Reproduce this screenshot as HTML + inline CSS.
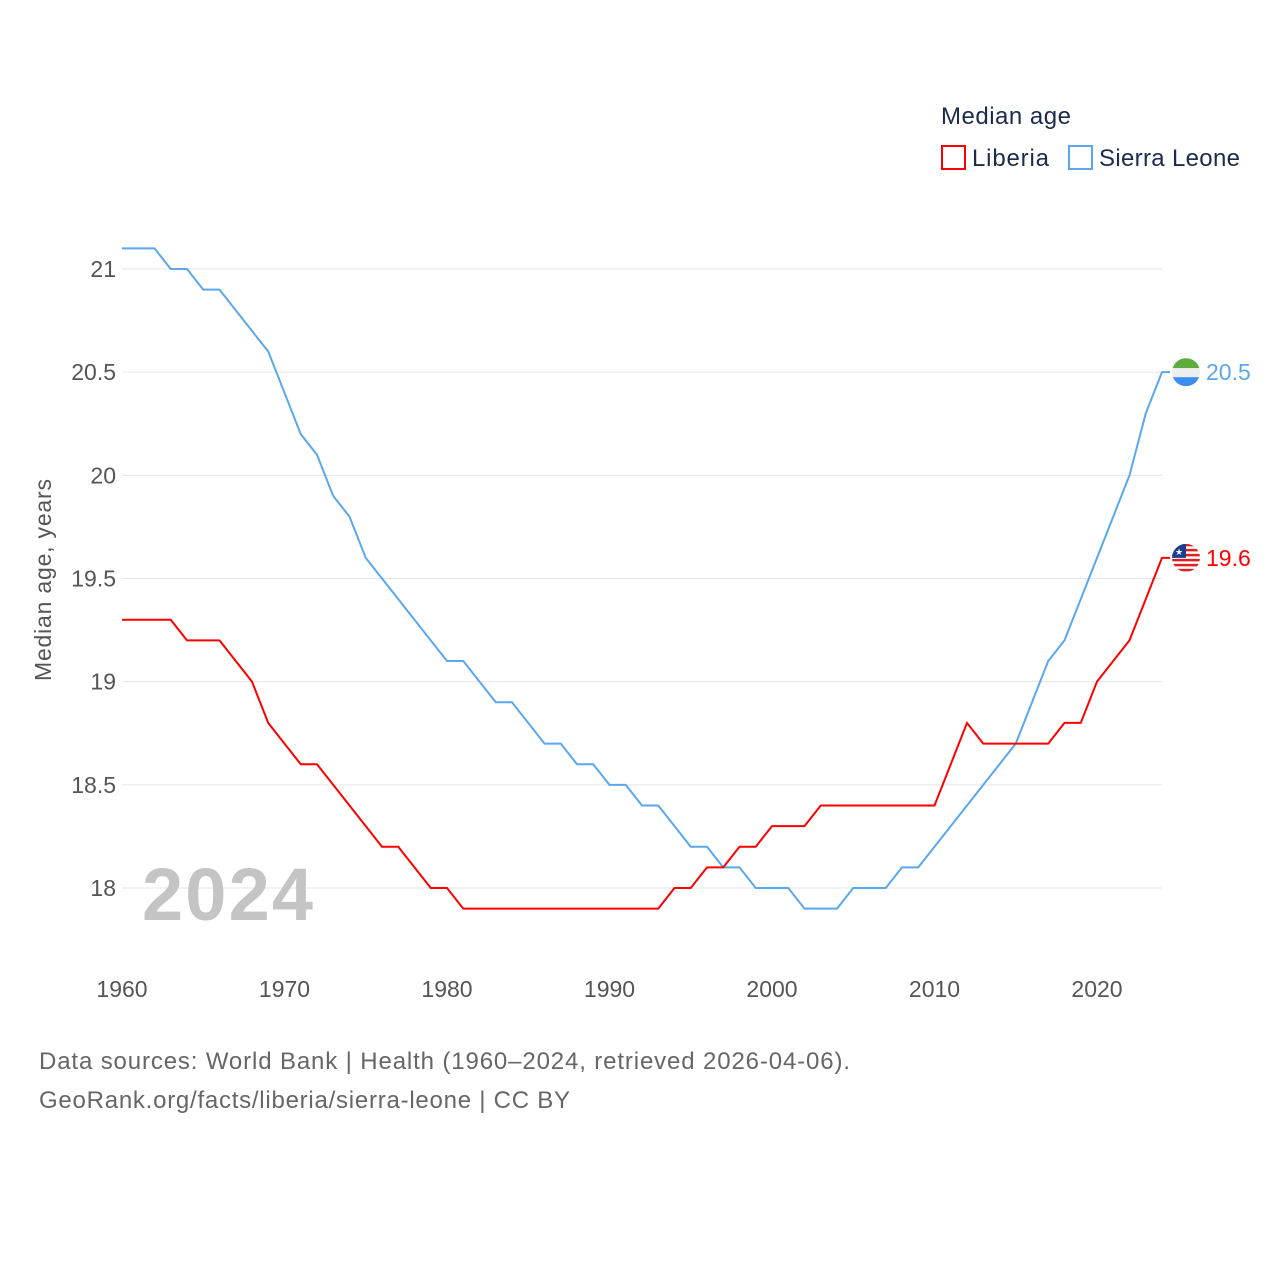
<!DOCTYPE html>
<html><head><meta charset="utf-8"><style>
body{margin:0;background:#fff;width:1280px;height:1280px;overflow:hidden;font-family:"Liberation Sans",sans-serif}
svg text{font-family:"Liberation Sans",sans-serif}
</style></head><body>
<svg id="chart" width="1280" height="1280" xmlns="http://www.w3.org/2000/svg">
<defs>
<clipPath id="c1"><circle id="c1c" cx="0" cy="0" r="14"/></clipPath>
<clipPath id="c2"><circle id="c2c" cx="0" cy="0" r="14"/></clipPath>
</defs>
<text x="941" y="124" font-size="24" fill="#1b2b4b" textLength="130">Median age</text>
<rect x="942" y="146" width="23" height="23" fill="none" stroke="#f00" stroke-width="2"/>
<text x="972" y="166" font-size="24" fill="#1b2b4b" textLength="77">Liberia</text>
<rect x="1069" y="146" width="23" height="23" fill="none" stroke="#5ba7ee" stroke-width="2"/>
<text x="1099" y="166" font-size="24" fill="#1b2b4b" textLength="141">Sierra Leone</text>
<g id="grid"></g><g id="lines"></g>
<text x="142" y="920" font-size="74" font-weight="bold" fill="#c4c4c4" textLength="171">2024</text>
<text transform="translate(51,580) rotate(-90)" text-anchor="middle" font-size="23" fill="#555" textLength="202">Median age, years</text>
<text x="39" y="1069" font-size="24" fill="#666" textLength="811">Data sources: World Bank | Health (1960–2024, retrieved 2026-04-06).</text>
<text x="39" y="1108" font-size="24" fill="#666" textLength="531">GeoRank.org/facts/liberia/sierra-leone | CC BY</text>
</svg>
<script>
const years=[];for(let y=1960;y<=2024;y++)years.push(y);
const liberia=[19.3,19.3,19.3,19.3,19.2,19.2,19.2,19.1,19.0,18.8,18.7,18.6,18.6,18.5,18.4,18.3,18.2,18.2,18.1,18.0,18.0,17.9,17.9,17.9,17.9,17.9,17.9,17.9,17.9,17.9,17.9,17.9,17.9,17.9,18.0,18.0,18.1,18.1,18.2,18.2,18.3,18.3,18.3,18.4,18.4,18.4,18.4,18.4,18.4,18.4,18.4,18.6,18.8,18.7,18.7,18.7,18.7,18.7,18.8,18.8,19.0,19.1,19.2,19.4,19.6];
const sierraLeone=[21.1,21.1,21.1,21.0,21.0,20.9,20.9,20.8,20.7,20.6,20.4,20.2,20.1,19.9,19.8,19.6,19.5,19.4,19.3,19.2,19.1,19.1,19.0,18.9,18.9,18.8,18.7,18.7,18.6,18.6,18.5,18.5,18.4,18.4,18.3,18.2,18.2,18.1,18.1,18.0,18.0,18.0,17.9,17.9,17.9,18.0,18.0,18.0,18.1,18.1,18.2,18.3,18.4,18.5,18.6,18.7,18.9,19.1,19.2,19.4,19.6,19.8,20.0,20.3,20.5];
const yTicks=[18,18.5,19,19.5,20,20.5,21];
const xTicks=[1960,1970,1980,1990,2000,2010,2020];
const X=y=>122+(y-1960)*16.25, Y=v=>888-(v-18)*206.33;
const NS="http://www.w3.org/2000/svg";
const g=document.getElementById('grid'),L=document.getElementById('lines');
function mk(t,a,p){const e=document.createElementNS(NS,t);for(const k in a)e.setAttribute(k,a[k]);p.appendChild(e);return e;}
yTicks.forEach(v=>{
 const l=mk('line',{x1:122,x2:1162,y1:Y(v),y2:Y(v),stroke:'#e6e6e6','stroke-width':1},g);
 
 
 const t=mk('text',{x:116,y:Y(v)+8,'text-anchor':'end','font-size':23,fill:'#555'},g);t.textContent=v;
 
 
});
xTicks.forEach(v=>{
 const t=mk('text',{x:X(v),y:997,'text-anchor':'middle','font-size':23,fill:'#555'},g);t.textContent=v;
 
 
});
function series(vals,col,name){
 const last=vals[vals.length-1],cx=X(2024)+24,cy=Y(last);
 const p=mk('path',{d:vals.map((v,i)=>(i?'L':'M')+X(years[i])+','+Y(v)).join('')+'L'+(X(2024)+8)+','+cy,fill:'none',stroke:col,'stroke-width':2},L);
 
 
 const t=mk('text',{x:cx+20,y:cy+8,'font-size':23,fill:col},L);t.textContent=last;
 
 
 return [cx,cy];
}
let [a,b]=series(sierraLeone,'#5ba7ee','sierra-leone');
document.getElementById('c1c').setAttribute('cx',a);document.getElementById('c1c').setAttribute('cy',b);
let f=mk('g',{'clip-path':'url(#c1)'},L);


mk('rect',{x:a-14,y:b-14,width:28,height:10,fill:'#5eab3e'},f);
mk('rect',{x:a-14,y:b-4,width:28,height:9,fill:'#eee'},f);
mk('rect',{x:a-14,y:b+5,width:28,height:10,fill:'#3b8ef0'},f);
[a,b]=series(liberia,'#f00','liberia');
document.getElementById('c2c').setAttribute('cx',a);document.getElementById('c2c').setAttribute('cy',b);
f=mk('g',{'clip-path':'url(#c2)'},L);


mk('rect',{x:a-14,y:b-14,width:28,height:28,fill:'#fff'},f);
for(let i=0;i<6;i++)mk('rect',{x:a-14,y:b-14+i*5,width:28,height:2.5,fill:'#d22'},f);
mk('rect',{x:a-14,y:b-14,width:14,height:14,fill:'#1a3f8f'},f);
const s=mk('text',{x:a-11,y:b-3,'font-size':9,fill:'#fff'},f);s.textContent='★';
</script>
</body></html>
